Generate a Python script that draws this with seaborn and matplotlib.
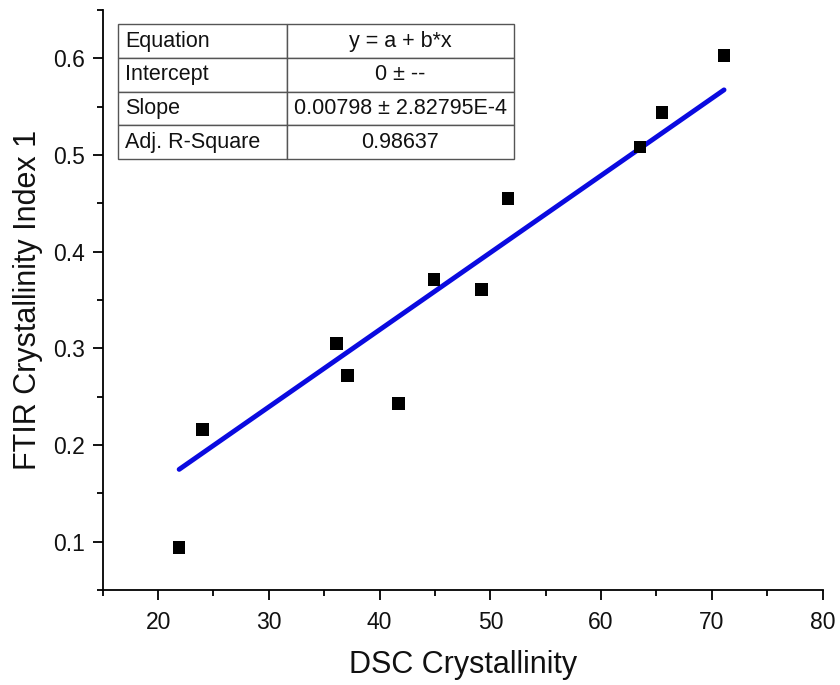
import numpy as np
import pandas as pd
import matplotlib
matplotlib.use("Agg")
import matplotlib.pyplot as plt
from matplotlib.ticker import MultipleLocator
import seaborn as sns

# Measured crystallinity values
dsc_crystallinity = [21.9, 24.0, 36.1, 37.1, 41.7, 44.9, 49.2, 51.6, 63.5, 65.5, 71.1]
ftir_index = [0.094, 0.216, 0.305, 0.272, 0.243, 0.371, 0.361, 0.455, 0.508, 0.544, 0.603]

# Linear fit through origin
fit_intercept = 0.0
fit_slope = 0.00798
fit_rows = ["Equation", "Intercept", "Slope", "Adj. R-Square"]
fit_values = ["y = a + b*x", "0 \u00b1 --", "0.00798 \u00b1 2.82795E-4", "0.98637"]

sns.set_style("ticks")
plt.rcParams["font.family"] = ["Liberation Sans", "DejaVu Sans"]
plt.rcParams["text.color"] = "#111111"
plt.rcParams["axes.labelcolor"] = "#111111"
plt.rcParams["xtick.labelcolor"] = "#111111"
plt.rcParams["ytick.labelcolor"] = "#111111"

df = pd.DataFrame({"DSC": dsc_crystallinity, "FTIR": ftir_index})
x_fit = np.array([min(dsc_crystallinity), max(dsc_crystallinity)])
fit_df = pd.DataFrame({"DSC": x_fit, "FTIR": fit_intercept + fit_slope * x_fit})

fig = plt.figure(figsize=(8.4, 6.85), dpi=100)
ax = fig.add_axes([0.1223, 0.1387, 0.857, 0.8467])

sns.lineplot(data=fit_df, x="DSC", y="FTIR", ax=ax, color="#0a0ae0",
             linewidth=3.5, solid_capstyle="round", zorder=2)
sns.scatterplot(data=df, x="DSC", y="FTIR", ax=ax, marker="s", s=80,
                color="black", edgecolor="none", zorder=3)

ax.set_xlim(15, 80)
ax.set_ylim(0.05, 0.65)
ax.xaxis.set_major_locator(MultipleLocator(10))
ax.xaxis.set_minor_locator(MultipleLocator(5))
ax.yaxis.set_major_locator(MultipleLocator(0.1))
ax.yaxis.set_minor_locator(MultipleLocator(0.05))
ax.set_yticks([0.1, 0.2, 0.3, 0.4, 0.5, 0.6])
ax.set_yticklabels(["0.1", "0.2", "0.3", "0.4", "0.5", "0.6"])

ax.tick_params(which="major", direction="out", length=7, width=1.3,
               labelsize=16.5, color="black")
ax.tick_params(axis="x", which="major", pad=8)
ax.tick_params(axis="y", which="major", pad=6)
ax.tick_params(which="minor", direction="out", length=4, width=1.3, color="black")
for side in ["top", "right"]:
    ax.spines[side].set_visible(False)
for side in ["left", "bottom"]:
    ax.spines[side].set_linewidth(1.3)
    ax.spines[side].set_color("black")

ax.set_xlabel("DSC Crystallinity", fontsize=22, labelpad=12)
ax.set_ylabel("FTIR Crystallinity Index 1", fontsize=22, labelpad=7)

# Fit parameter table
cell_text = [[r, v] for r, v in zip(fit_rows, fit_values)]
tbl = ax.table(cellText=cell_text, colWidths=[0.4263, 0.5737],
               bbox=[0.0217, 0.7431, 0.549, 0.2322], zorder=4)
tbl.auto_set_font_size(False)
for (row, col), cell in tbl.get_celld().items():
    cell.set_edgecolor("#555555")
    cell.set_linewidth(1.0)
    cell.set_facecolor("white")
    cell.get_text().set_fontsize(15.5)
    cell.get_text().set_color("#111111")
    if col == 0:
        cell.set_text_props(ha="left")
        cell.PAD = 0.04
    else:
        cell.set_text_props(ha="center")

fig.savefig("out.png", dpi=100)
